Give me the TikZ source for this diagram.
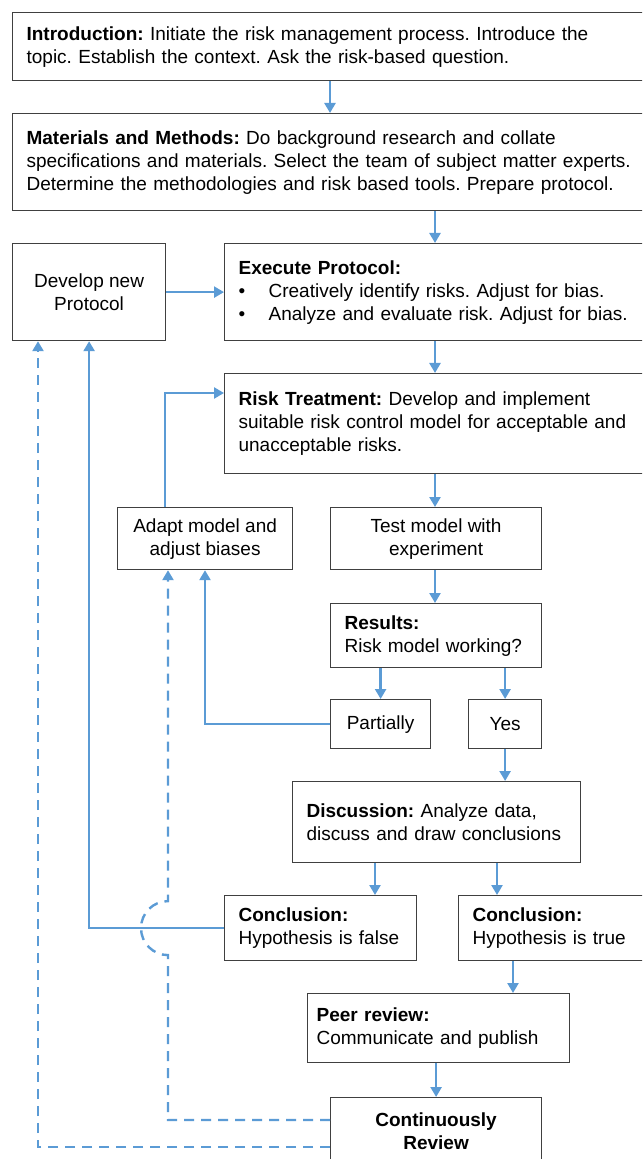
\documentclass[tikz,border=0pt]{standalone}
\usepackage{fontspec}
\setmainfont{Liberation Sans}
\usepackage{tikz}
\usetikzlibrary{arrows.meta,calc}
\usepackage{xcolor}
\definecolor{FlowBlue}{HTML}{5B9BD5}
\definecolor{BoxGray}{HTML}{404040}
\frenchspacing
\tikzset{
  box/.style={draw=BoxGray, line width=0.6pt, anchor=north west, inner xsep=7pt, inner ysep=0pt,
    font=\fontsize{9.5}{11.5}\selectfont},
  textbox/.style={box, align=left},
  labelbox/.style={box, align=center, inner xsep=0pt},
  flow/.style={draw=FlowBlue, line width=1.2pt, -{Triangle[length=5pt,width=5.5pt]}},
  back/.style={flow, dash pattern=on 5pt off 3.5pt},
}

\begin{document}
\begin{tikzpicture}[x=0.5pt,y=-0.5pt]
    \useasboundingbox (0,0) rectangle (642,1159);
    \clip (0,0) rectangle (642,1159);
    \node[textbox, text width=336pt, minimum height=34pt] (intro) at (12,12)
      {\textbf{Introduction:} Initiate the risk management process. Introduce the\\topic. Establish the context. Ask the risk-based question.};
    \node[textbox, text width=336pt, minimum height=48.5pt] (mm) at (12,113)
      {\textbf{Materials and Methods:} Do background research and collate\\specifications and materials. Select the team of subject matter experts.\\Determine the methodologies and risk based tools. Prepare protocol.};
    \node[labelbox, minimum width=76.5pt, minimum height=48.5pt] (dev) at (12,243) {Develop new\\Protocol};
    \node[textbox, text width=236pt, minimum height=48.5pt] (exec) at (224,243)
      {\textbf{Execute Protocol:}\\\makebox[15pt][l]{\textbullet}Creatively identify risks. Adjust for bias.\\\makebox[15pt][l]{\textbullet}Analyze and evaluate risk. Adjust for bias.};
    \node[textbox, text width=236pt, minimum height=50pt] (risk) at (224,373)
      {\textbf{Risk Treatment:} Develop and implement\\suitable risk control model for acceptable and\\unacceptable risks.};
    \node[labelbox, minimum width=87.5pt, minimum height=31pt] (adapt) at (117,507) {Adapt model and\\adjust biases};
    \node[labelbox, minimum width=105.5pt, minimum height=31pt] (test) at (330,507) {Test model with\\experiment};
    \node[textbox, text width=91.5pt, minimum height=32pt] (results) at (330,603) {\textbf{Results:}\\Risk model working?};
    \node[labelbox, minimum width=50pt, minimum height=24.5pt] (part) at (330,699) {Partially};
    \node[labelbox, minimum width=36.5pt, minimum height=24.5pt] (yes) at (468,699) {Yes};
    \node[textbox, text width=130pt, minimum height=40.5pt] (disc) at (292,781)
      {\textbf{Discussion:} Analyze data,\\discuss and draw conclusions};
    \node[textbox, text width=82pt, minimum height=32.5pt] (cfalse) at (224,895) {\textbf{Conclusion:}\\Hypothesis is false};
    \node[textbox, text width=111pt, minimum height=32.5pt] (ctrue) at (458,895) {\textbf{Conclusion:}\\Hypothesis is true};
    \node[textbox, text width=122pt, inner xsep=4.5pt, minimum height=34.5pt] (peer) at (307,993)
      {\textbf{Peer review:}\\Communicate and publish};
    \node[labelbox, minimum width=105.5pt, minimum height=34pt] (review) at (330,1097)
      {\textbf{Continuously}\\\textbf{Review}};
    % columns of the connectors
    \foreach \name/\x in {colA/330,colB/435,colC/375,colD/497,colE/513,colF/168,colG/38,colH/165,colI/205} {
      \coordinate (\name) at (\x,0);
    }
    \draw[flow] (intro.south -| colA) -- (mm.north -| colA);
    \draw[flow] (mm.south -| colB) -- (exec.north -| colB);
    \draw[flow] (dev.east) -- (exec.west |- dev.east);
    \draw[flow] (exec.south -| colB) -- (risk.north -| colB);
    \draw[flow] (risk.south -| colB) -- (test.north -| colB);
    \draw[flow] (test.south -| colB) -- (results.north -| colB);
    \draw[flow] (results.south -| part.north) -- (part.north);
    \draw[flow] (results.south -| yes.north) -- (yes.north);
    \draw[flow] (yes.south) -- (disc.north -| yes.south);
    \draw[flow] (disc.south -| colC) -- (cfalse.north -| colC);
    \draw[flow] (disc.south -| colD) -- (ctrue.north -| colD);
    \draw[flow] (ctrue.south -| colE) -- (peer.north -| colE);
    \draw[flow] (peer.south -| review.north) -- (review.north);
    \draw[flow] (adapt.north -| colH) |- ($(risk.north west)+(0,20)$);
    \draw[flow] (part.west) -| (adapt.south -| colI);
    \draw[flow] (cfalse.west) -| (dev.south);
    % review loops
    \draw[back] ($(review.north west)+(0,23)$) -| ($(cfalse.west -| colF)+(0,27)$)
      arc[start angle=270, end angle=90, radius=13.5pt] -- (adapt.south -| colF);
    \draw[back] ($(review.north west)+(0,50)$) -| (dev.south -| colG);
\end{tikzpicture}
\end{document}
